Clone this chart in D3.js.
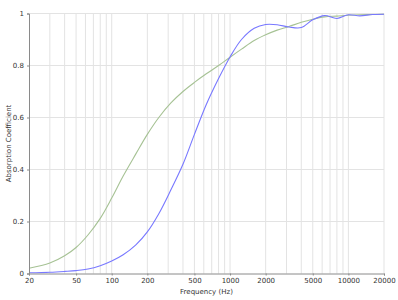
<!DOCTYPE html>
<html>
<head>
<meta charset="utf-8">
<script src="https://cdn.jsdelivr.net/npm/d3@7"></script>
<style>
  body { margin: 0; background: #fff; }
  text { font-family: "DejaVu Sans", Verdana, sans-serif; fill: #333; }
</style>
</head>
<body>
<div id="chart"></div>
<script>
// frequencies (Hz) the two curves are read at
var freqs = [20, 30, 40, 50, 63, 80, 100, 125, 160, 200, 250, 315, 400, 500, 630, 800,
             1000, 1250, 1600, 2000, 2500, 3150, 4000, 5000, 6300, 8000, 10000, 12500, 16000, 20000];

// green curve
var seriesA = [0.02, 0.04, 0.068, 0.10, 0.148, 0.212, 0.29, 0.375, 0.46, 0.535, 0.60, 0.655, 0.70, 0.735,
               0.768, 0.80, 0.832, 0.863, 0.896, 0.918, 0.936, 0.95, 0.966, 0.978, 0.987, 0.99, 0.993, 0.995, 0.996, 0.997];

// blue curve
var seriesB = [0.003, 0.005, 0.008, 0.011, 0.017, 0.03, 0.048, 0.072, 0.11, 0.16, 0.23, 0.32, 0.42, 0.535,
               0.65, 0.75, 0.833, 0.90, 0.943, 0.958, 0.957, 0.948, 0.946, 0.976, 0.992, 0.981, 0.995, 0.991, 0.996, 0.997];

var xTickLabels = [20, 50, 100, 200, 500, 1000, 2000, 5000, 10000, 20000];
var yTickLabels = [0, 0.2, 0.4, 0.6, 0.8, 1];

var width = 398, height = 300;
var margin = {top: 13.5, right: 14, bottom: 26.5, left: 29};

var svg = d3.select("#chart").append("svg")
    .attr("width", width)
    .attr("height", height);

var x = d3.scaleLog().domain([20, 20000]).range([margin.left, width - margin.right]);
var y = d3.scaleLinear().domain([0, 1]).range([height - margin.bottom, margin.top]);

// vertical grid on every 1..9 multiple
var minor = [];
[10, 100, 1000, 10000].forEach(function(d){
    for (var k = 1; k < 10; k++) {
        var f = d * k;
        if (f > 20 && f <= 20000) minor.push(f);
    }
});

var grid = svg.append("g");
grid.selectAll("line.v").data(minor).enter().append("line")
    .attr("x1", function(d){ return x(d); })
    .attr("x2", function(d){ return x(d); })
    .attr("y1", y(0))
    .attr("y2", y(1))
    .style("stroke", "#e3e3e3")
    .style("stroke-width", 1);

grid.selectAll("line.h").data(yTickLabels.slice(1)).enter().append("line")
    .attr("x1", x(20))
    .attr("x2", x(20000))
    .attr("y1", function(d){ return y(d); })
    .attr("y2", function(d){ return y(d); })
    .style("stroke", "#e3e3e3")
    .style("stroke-width", 1);

var line = d3.line()
    .x(function(d){ return x(d[0]); })
    .y(function(d){ return y(d[1]); })
    .curve(d3.curveCatmullRom.alpha(0.5));

svg.append("path")
    .datum(d3.zip(freqs, seriesA))
    .attr("d", line)
    .style("fill", "none")
    .style("stroke", "#a6c294")
    .style("stroke-width", 1.1);

svg.append("path")
    .datum(d3.zip(freqs, seriesB))
    .attr("d", line)
    .style("fill", "none")
    .style("stroke", "#7878ff")
    .style("stroke-width", 1.1);

// axes
var xAxis = svg.append("g")
    .attr("transform", "translate(0," + y(0) + ")")
    .call(d3.axisBottom(x).tickValues(xTickLabels).tickFormat(d3.format("d")).tickSize(2).tickPadding(3));

var yAxis = svg.append("g")
    .attr("transform", "translate(" + x(20) + ",0)")
    .call(d3.axisLeft(y).tickValues(yTickLabels).tickFormat(function(d){ return d3.format("")(d); }).tickSize(2).tickPadding(3));

[xAxis, yAxis].forEach(function(a){
    a.select(".domain").style("stroke", "#8a8a8a");
    a.selectAll(".tick line").style("stroke", "#8a8a8a");
    a.selectAll("text").style("font-size", "7px").style("fill", "#333")
        .style("font-family", "'DejaVu Sans', Verdana, sans-serif");
});

svg.append("text")
    .attr("x", (x(20) + x(20000)) / 2)
    .attr("y", 293.5)
    .attr("text-anchor", "middle")
    .style("font-size", "7px")
    .text("Frequency (Hz)");

svg.append("text")
    .attr("transform", "translate(10.5," + ((y(0) + y(1)) / 2) + ") rotate(-90)")
    .attr("text-anchor", "middle")
    .style("font-size", "7px")
    .text("Absorption Coefficient");
</script>
</body>
</html>
